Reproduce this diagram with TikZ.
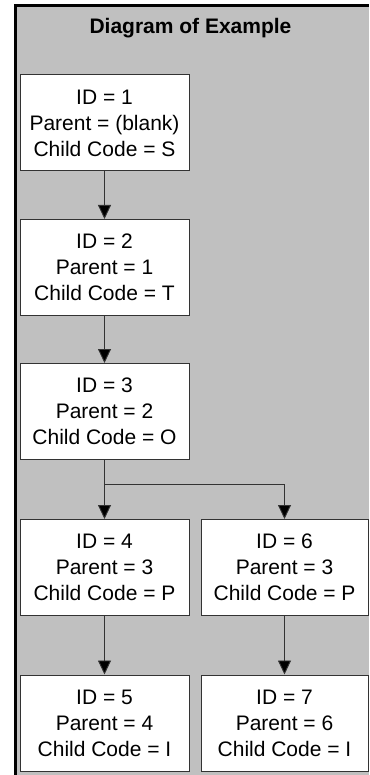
\documentclass[tikz,border=0pt]{standalone}
\usepackage{fontspec}
\setmainfont{Liberation Sans}
\usetikzlibrary{arrows.meta}
\definecolor{panelgray}{HTML}{C0C0C0}
\definecolor{edgegray}{HTML}{333333}
\begin{document}
\begin{tikzpicture}[x=1pt,y=-1pt,
  recbox/.style={draw=edgegray, line width=1pt, fill=white, minimum width=169pt, minimum height=96pt,
    inner sep=0pt, align=center, font=\fontsize{21}{26}\selectfont},
  narrow/.style={minimum width=167pt},
  arr/.style={draw=edgegray, line width=0.9pt, -{Triangle[width=13pt,length=14pt,fill=black]}},
]
\useasboundingbox (0,0) rectangle (369,775);
% panel
\fill[panelgray] (14,4) rectangle (369,775);
\draw[black, line width=3.2pt] (15.6,775) -- (15.6,5.6) -- (369,5.6);
% title
\node[anchor=base, font=\fontsize{21}{26}\selectfont\bfseries] (title) at (190.5,33.3) {Diagram of Example};
% boxes
\node[recbox] (b1) at (104.5,123) {ID = 1\\Parent = (blank)\\Child Code = S};
\node[recbox] (b2) at (104.5,267.5) {ID = 2\\Parent = 1\\Child Code = T};
\node[recbox] (b3) at (104.5,411.5) {ID = 3\\Parent = 2\\Child Code = O};
\node[recbox] (b4) at (104.5,567.5) {ID = 4\\Parent = 3\\Child Code = P};
\node[recbox,narrow] (b6) at (284.5,567.5) {ID = 6\\Parent = 3\\Child Code = P};
\node[recbox] (b5) at (104.5,723) {ID = 5\\Parent = 4\\Child Code = I};
\node[recbox,narrow] (b7) at (284.5,723) {ID = 7\\Parent = 6\\Child Code = I};
% connectors
\draw[arr] (b1) -- (b2);
\draw[arr] (b2) -- (b3);
\draw[arr] (b3) -- (b4);
\draw[arr] (b3.south) -- ++(0,24) -| (b6.north);
\draw[arr] (b4) -- (b5);
\draw[arr] (b6) -- (b7);
\end{tikzpicture}
\end{document}
